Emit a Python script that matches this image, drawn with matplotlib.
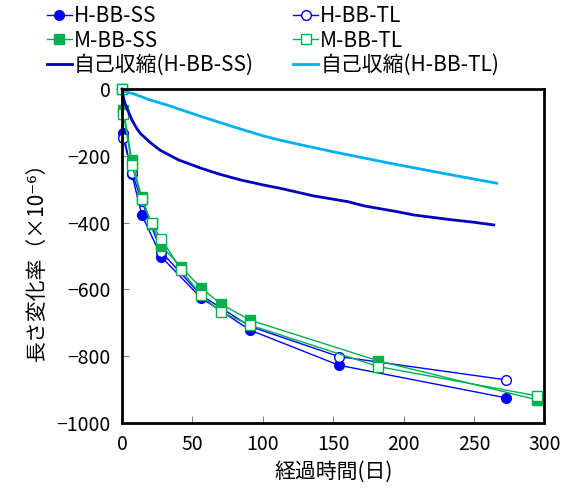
import matplotlib
matplotlib.use("Agg")
import matplotlib.pyplot as plt

plt.rcParams['font.family'] = ['Noto Sans CJK JP', 'DejaVu Sans']
plt.rcParams['axes.unicode_minus'] = True

# measured points (days, strain x10^-6)
days_h = [0, 1, 7, 14, 28, 56, 91, 154, 273]
h_bb_ss = [0, -133, -255, -376, -503, -625, -722, -827, -925]
h_bb_tl = [0, -148, -250, -335, -488, -617, -711, -801, -871]

days_m = [0, 1, 7, 14, 21, 28, 42, 56, 70, 91, 182, 295]
m_bb_ss = [0, -62, -214, -324, -405, -470, -533, -595, -643, -692, -814, -931]
m_bb_tl = [0, -74, -228, -330, -402, -450, -541, -617, -667, -707, -831, -919]

# autogenous shrinkage (continuous records)
days_ss = [0, 1, 2, 4, 7, 10, 13, 20, 27, 40, 56, 70, 84, 100, 112, 136, 160, 172,
           195, 207, 231, 250, 264]
auto_ss = [0, -25, -42, -63, -92, -115, -133, -160, -183, -212, -237, -256, -272,
           -287, -297, -320, -337, -350, -367, -377, -390, -399, -407]
days_tl = [0, 1, 4, 8, 20, 32, 56, 79, 100, 112, 126, 150, 190, 230, 266]
auto_tl = [0, -6, -10, -14, -33, -48, -82, -113, -140, -153, -166, -188, -222, -254, -282]

fig = plt.figure(figsize=(5.68, 4.88), dpi=100)
ax = fig.add_axes([0.2148, 0.1332, 0.7438, 0.6844])

blue = '#0000FF'
green = '#00B050'

l1, = ax.plot(days_h, h_bb_ss, color=blue, lw=1, marker='o', ms=7, mfc=blue, mec=blue, label='H-BB-SS')
l2, = ax.plot(days_h, h_bb_tl, color=blue, lw=1, marker='o', ms=7, mfc='white', mec=blue, label='H-BB-TL')
l3, = ax.plot(days_m, m_bb_ss, color=green, lw=1, marker='s', ms=7, mfc=green, mec=green, label='M-BB-SS')
l4, = ax.plot(days_m, m_bb_tl, color=green, lw=1, marker='s', ms=7, mfc='white', mec=green, label='M-BB-TL')
l5, = ax.plot(days_ss, auto_ss, color='#0000C0', lw=2, label='自己収縮(H-BB-SS)')
l6, = ax.plot(days_tl, auto_tl, color='#00B0F0', lw=2, label='自己収縮(H-BB-TL)')

ax.set_xlim(0, 300)
ax.set_ylim(-1000, 0)
ax.set_xticks(range(0, 301, 50))
ax.set_yticks(range(-1000, 1, 200))
ax.tick_params(direction='in', length=5, color='#808080', labelsize=14, pad=8)
for s in ax.spines.values():
    s.set_linewidth(2)
    s.set_color('black')
for ln in ax.lines:
    ln.set_clip_on(False)

ax.set_xlabel('経過時間(日)', fontsize=15, labelpad=4)
ax.set_ylabel('長さ変化率（×10⁻⁶）', fontsize=15, labelpad=6)

# row-major order for the two-column legend
handles = [l1, l3, l5, l2, l4, l6]
fig.legend(handles, [h.get_label() for h in handles], loc='upper left',
           bbox_to_anchor=(0.06, 1.015), ncol=2, frameon=False,
           fontsize=15, handlelength=1.2, handletextpad=0.1, columnspacing=1.9,
           labelspacing=0.12, borderaxespad=0.2)

fig.savefig('out.png', dpi=100)
